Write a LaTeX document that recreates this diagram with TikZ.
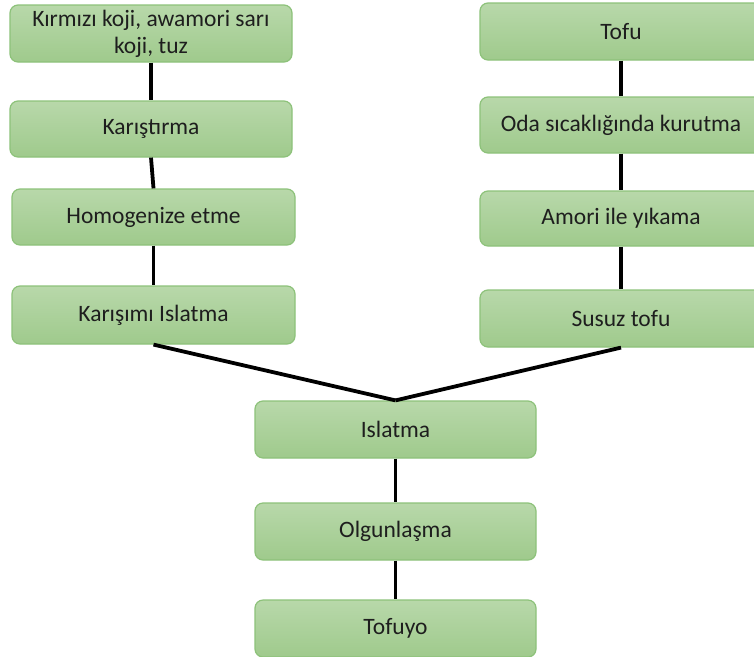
\documentclass[tikz,border=0pt]{standalone}
\usepackage{fontspec}
\setmainfont{Carlito}
\definecolor{boxtop}{HTML}{B8D8AA}
\definecolor{boxbot}{HTML}{9FCA8C}
\definecolor{boxline}{HTML}{8DC27A}
\definecolor{txt}{HTML}{1E1E1E}
\begin{document}
\begin{tikzpicture}[x=1pt,y=-1pt,
  stepbox/.style={draw=boxline, line width=1.2pt, rounded corners=8pt,
    top color=boxtop, bottom color=boxbot, text=txt, align=center,
    inner sep=2pt, font=\fontsize{23.5}{27}\selectfont},
  link/.style={line width=3.8pt, black}]
\useasboundingbox (0,0) rectangle (754,656);
\fill[white] (0,0) rectangle (754,656);
% left column
\node[stepbox, minimum width=282pt, minimum height=57pt] (b1) at (151,33.5) {Kırmızı koji, awamori sarı\\koji, tuz};
\node[stepbox, minimum width=282pt, minimum height=56pt] (b2) at (151,129) {Karıştırma};
\node[stepbox, minimum width=283pt, minimum height=56pt] (b3) at (153.5,217) {Homogenize etme};
\node[stepbox, minimum width=283pt, minimum height=58pt] (b4) at (153.5,315) {Karışımı Islatma};
% right column
\node[stepbox, minimum width=282pt, minimum height=57pt] (r1) at (621,31.5) {Tofu};
\node[stepbox, minimum width=282pt, minimum height=56pt] (r2) at (621,125) {Oda sıcaklığında kurutma};
\node[stepbox, minimum width=282pt, minimum height=55pt] (r3) at (621,218.5) {Amori ile yıkama};
\node[stepbox, minimum width=282pt, minimum height=57pt] (r4) at (621,318.5) {Susuz tofu};
% centre column
\node[stepbox, minimum width=281pt, minimum height=57pt] (c1) at (395.5,429.5) {Islatma};
\node[stepbox, minimum width=281pt, minimum height=57pt] (c2) at (395.5,531.5) {Olgunlaşma};
\node[stepbox, minimum width=281pt, minimum height=57pt] (c3) at (395.5,628.5) {Tofuyo};
% connectors
\draw[link] (b1.south) -- (b2.north);
\draw[link] (b2.south) -- (b3.north);
\draw[link] (b3.south) -- (b4.north);
\draw[link] (r1.south) -- (r2.north);
\draw[link] (r2.south) -- (r3.north);
\draw[link] (r3.south) -- (r4.north);
\draw[link] (b4.south) -- (c1.north);
\draw[link] (r4.south) -- (c1.north);
\draw[link] (c1.south) -- (c2.north);
\draw[link] (c2.south) -- (c3.north);
\end{tikzpicture}
\end{document}
